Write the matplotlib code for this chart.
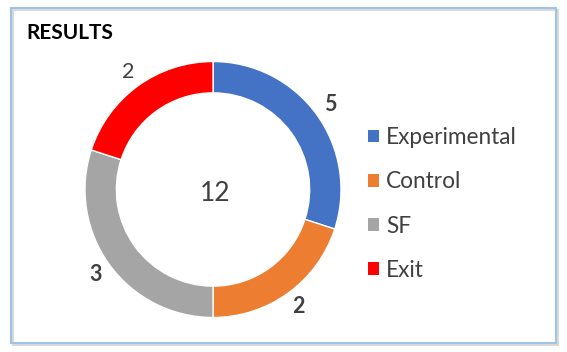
import matplotlib.pyplot as plt
from matplotlib.patches import Patch, Rectangle

# data
groups = ["Experimental", "Control", "SF", "Exit"]
counts = [5, 2, 3, 2]
shares = [30, 20, 30, 20]  # arc sizes as drawn (not proportional to counts)
colors = ["#4472C4", "#ED7D31", "#A5A5A5", "#FF0000"]
label_bold = [True, True, True, False]
title = "RESULTS"

W, H = 567, 352
text_color = "#404040"
plt.rcParams["font.family"] = ["Lato", "DejaVu Sans"]

fig = plt.figure(figsize=(W / 100, H / 100), dpi=100)
fig.patch.set_facecolor("white")

# chart frame with a faint shadow
fig.add_artist(Rectangle((13 / W, 1 - 345 / H), 545 / W, 335 / H,
                         transform=fig.transFigure, fill=False,
                         edgecolor="#D9D9D9", linewidth=1.5))
fig.add_artist(Rectangle((11 / W, 1 - 343 / H), 545 / W, 335 / H,
                         transform=fig.transFigure, fill=False,
                         edgecolor="#9DC3E6", linewidth=1.5))

# donut, centre at (213, 190) px, outer radius 128 px
cx, cy, r = 213, 189.5, 128
ax = fig.add_axes([(cx - r) / W, (H - cy - r) / H, 2 * r / W, 2 * r / H])
wedges, texts = ax.pie(shares, colors=colors, startangle=90,
                       counterclock=False, radius=1,
                       labels=[str(c) for c in counts],
                       labeldistance=1.13,
                       wedgeprops=dict(width=0.245, edgecolor="white",
                                       linewidth=1))
for t, bold in zip(texts, label_bold):
    t.set_fontsize(15.5)
    t.set_color(text_color)
    t.set_fontweight("bold" if bold else "normal")
    t.set_ha("center")
    t.set_va("center")
ax.set_xlim(-1, 1)
ax.set_ylim(-1, 1)
ax.set_aspect("equal")
ax.axis("off")

ax.text(0.02, -0.03, str(sum(counts)), ha="center", va="center",
        fontsize=19, color=text_color)

fig.text(26 / W, 1 - 33 / H, title, ha="left", va="center",
         fontsize=15, fontweight="bold", color="black")

handles = [Patch(facecolor=c, edgecolor="none") for c in colors]
fig.legend(handles, groups, loc="upper left",
           bbox_to_anchor=(368 / W, 1 - 127 / H), frameon=False,
           fontsize=16.3, handlelength=0.5, handleheight=0.5,
           handletextpad=0.3, labelspacing=1.03, borderpad=0,
           borderaxespad=0, labelcolor=text_color)

fig.savefig("out.png", dpi=100)
